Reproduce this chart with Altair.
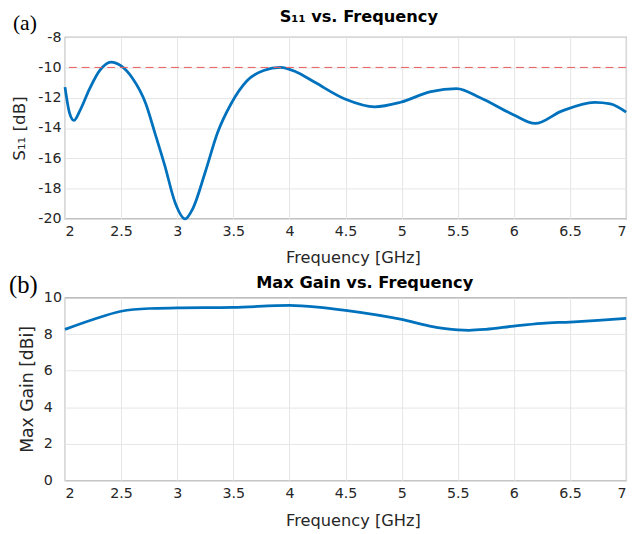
import altair as alt
import pandas as pd

# S11 data (GHz, dB)
s11_freq = [2.0, 2.04, 2.08, 2.13, 2.22, 2.31, 2.41, 2.5, 2.6, 2.72, 2.80, 2.89, 2.98, 3.07,
            3.14, 3.25, 3.36, 3.48, 3.62, 3.77, 3.92, 4.06, 4.23, 4.5, 4.76, 4.99, 5.26,
            5.49, 5.70, 5.99, 6.19, 6.42, 6.72, 6.86, 7.0]
s11_db = [-11.3, -13.0, -13.5, -12.9, -11.4, -10.2, -9.65, -9.9, -10.7, -12.4, -14.3, -16.5,
          -18.9, -20.0, -19.3, -16.9, -14.3, -12.4, -10.9, -10.2, -10.0, -10.3, -11.0, -12.1,
          -12.6, -12.3, -11.6, -11.4, -12.0, -13.1, -13.7, -12.9, -12.3, -12.4, -12.95]

# Max gain data (GHz, dBi)
gain_freq = [2.0, 2.25, 2.5, 2.75, 3.0, 3.5, 4.0, 4.25, 4.5, 5.0, 5.25, 5.5, 5.6, 5.75,
             6.0, 6.25, 6.5, 6.75, 7.0]
gain_dbi = [8.26, 8.8, 9.25, 9.4, 9.43, 9.46, 9.57, 9.48, 9.3, 8.8, 8.44, 8.23, 8.21, 8.26,
            8.44, 8.59, 8.66, 8.75, 8.86]

threshold = [-10]
x_ticks = [2, 2.5, 3, 3.5, 4, 4.5, 5, 5.5, 6, 6.5, 7]
s11_ticks = [-20, -18, -16, -14, -12, -10, -8]
gain_ticks = [0, 2, 4, 6, 8, 10]
titles = ["S₁₁ vs. Frequency", "Max Gain vs. Frequency"]
panel_tags = ["(a)", "(b)"]

df_s11 = pd.DataFrame({"f": s11_freq, "v": s11_db})
df_gain = pd.DataFrame({"f": gain_freq, "v": gain_dbi})
df_thr = pd.DataFrame({"v": threshold})

W = 571
BLUE = "#0072BD"
FONT = "DejaVu Sans"
TXT = "#262626"


def xaxis(tp):
    return alt.Axis(values=x_ticks, format="~g", title="Frequency [GHz]", labelOverlap=False,
                    labelPadding=6, titlePadding=tp, titleX=293, titleAlign="center",
                    titleFontSize=16.5)


def x_enc(tp):
    return alt.X("f:Q", scale=alt.Scale(domain=[2, 7], nice=False), axis=xaxis(tp))


s11_axis = alt.Axis(values=s11_ticks, title="S₁₁ [dB]", labelOverlap=False,
                    labelExpr="'' + datum.value", labelPadding=4, titlePadding=10,
                    titleFontSize=17)

s11_line = alt.Chart(df_s11).mark_line(color=BLUE, strokeWidth=2.8, interpolate="monotone").encode(
    x=x_enc(12),
    y=alt.Y("v:Q", scale=alt.Scale(domain=[-20, -8], nice=False), axis=s11_axis),
)
thr = alt.Chart(df_thr).mark_rule(color="#e85a5a", strokeDash=[8, 5], strokeWidth=1).encode(
    y=alt.Y("v:Q", axis=s11_axis)
)
title_a = alt.Chart(pd.DataFrame({"t": [titles[0]]})).mark_text(
    font=FONT, fontSize=16.5, fontWeight="bold", align="center", baseline="alphabetic", color="black"
).encode(x=alt.value(299), y=alt.value(-15), text="t:N")
lab_a = alt.Chart(pd.DataFrame({"t": [panel_tags[0]]})).mark_text(
    font="Liberation Serif", fontSize=22, align="left", baseline="alphabetic", color="black"
).encode(x=alt.value(-53), y=alt.value(-7), text="t:N")

top = alt.layer(s11_line, thr, title_a, lab_a).properties(width=W, height=185)

gain_axis = alt.Axis(values=gain_ticks, title="Max Gain [dBi]", labelOverlap=False,
                     labelAlign="left", labelPadding=22, titlePadding=7, titleFontSize=17.5)
gain_line = alt.Chart(df_gain).mark_line(color=BLUE, strokeWidth=2.8, interpolate="monotone").encode(
    x=x_enc(13),
    y=alt.Y("v:Q", scale=alt.Scale(domain=[0, 10], nice=False), axis=gain_axis),
)
title_b = alt.Chart(pd.DataFrame({"t": [titles[1]]})).mark_text(
    font=FONT, fontSize=16.5, fontWeight="bold", align="center", baseline="alphabetic", color="black"
).encode(x=alt.value(305), y=alt.value(-10), text="t:N")
lab_b = alt.Chart(pd.DataFrame({"t": [panel_tags[1]]})).mark_text(
    font="Liberation Serif", fontSize=25, align="left", baseline="alphabetic", color="black"
).encode(x=alt.value(-57), y=alt.value(-5), text="t:N")

bottom = alt.layer(gain_line, title_b, lab_b).properties(width=W, height=186)

chart = alt.vconcat(top, bottom, spacing=5).properties(
    padding={"top": -4, "left": 0, "right": 0, "bottom": 0}
).configure_axis(
    labelFont=FONT, titleFont=FONT, labelFontSize=14.5, titleFontSize=16.5,
    labelColor=TXT, titleColor=TXT, titleFontWeight="normal",
    ticks=False, domain=False, gridColor="#e6e6e6", gridWidth=1,
).configure_view(stroke="#808080", strokeWidth=1.2)

chart.save("out.html", embed_options={"renderer": "svg", "actions": False})
